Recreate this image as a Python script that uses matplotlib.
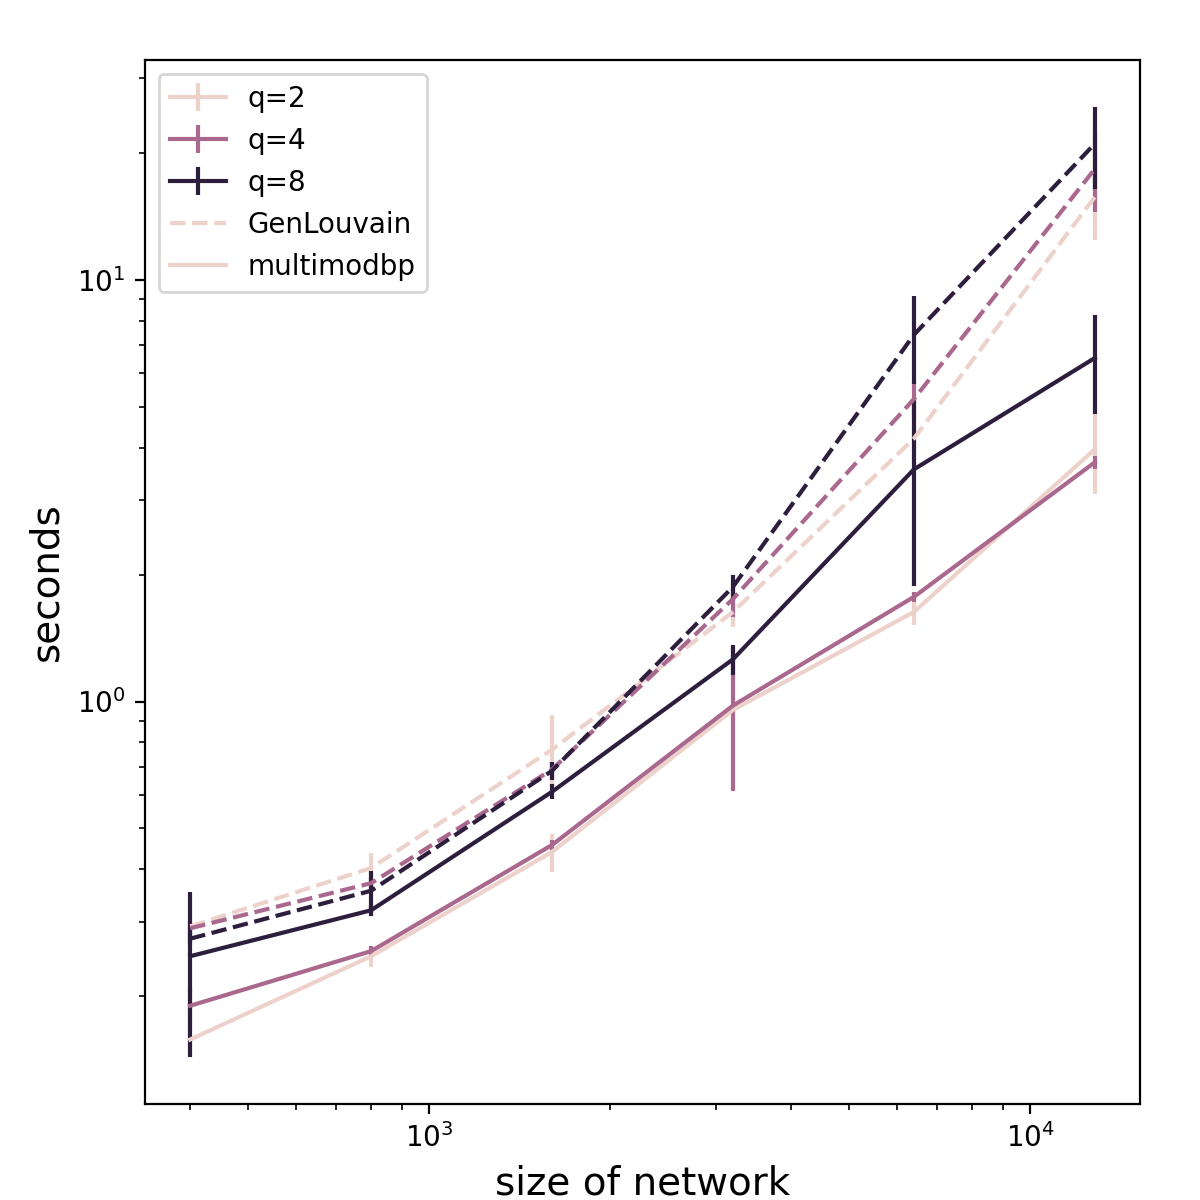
import matplotlib
matplotlib.use("Agg")
import matplotlib.pyplot as plt
from matplotlib.lines import Line2D
import seaborn as sns

sizes = [400, 800, 1600, 3200, 6400, 12800]
q_values = [2, 4, 8]

# multimodbp (solid) mean and std
multimodbp_mean = {
    2: [0.158, 0.249, 0.440, 0.955, 1.63, 3.96],
    4: [0.190, 0.256, 0.457, 0.978, 1.77, 3.69],
    8: [0.249, 0.320, 0.611, 1.259, 3.55, 6.52],
}
multimodbp_err = {
    2: [0.010, 0.014, 0.045, 0.050, 0.11, 0.85],
    4: [0.020, 0.007, 0.012, 0.364, 0.05, 0.13],
    8: [0.105, 0.010, 0.025, 0.105, 1.67, 1.72],
}
# GenLouvain (dashed) mean and std
genlouvain_mean = {
    2: [0.293, 0.403, 0.769, 1.63, 4.20, 15.7],
    4: [0.290, 0.371, 0.690, 1.75, 5.21, 18.3],
    8: [0.274, 0.356, 0.685, 1.87, 7.40, 21.0],
}
genlouvain_err = {
    2: [0.010, 0.034, 0.160, 0.13, 0.30, 3.3],
    4: [0.010, 0.010, 0.030, 0.165, 0.50, 3.8],
    8: [0.010, 0.040, 0.035, 0.12, 1.75, 4.6],
}

colors = sns.cubehelix_palette(3)

fig = plt.figure(figsize=(6, 6), dpi=200)
ax = fig.add_axes([0.1208, 0.08, 0.8292, 0.87])

handles = []
for q, c in zip(q_values, colors):
    ax.errorbar(sizes, genlouvain_mean[q], yerr=genlouvain_err[q],
                color=c, linestyle="--", linewidth=1.5)
    h = ax.errorbar(sizes, multimodbp_mean[q], yerr=multimodbp_err[q],
                    color=c, linestyle="-", linewidth=1.5, label=f"q={q}")
    handles.append(h)

ax.set_xscale("log")
ax.set_yscale("log")
ax.set_xlabel("size of network", fontsize=14)
ax.set_ylabel("seconds", fontsize=14)
ax.tick_params(labelsize=10)

handles.append(Line2D([], [], color=colors[0], linestyle="--", linewidth=1.5, label="GenLouvain"))
handles.append(Line2D([], [], color=colors[0], linestyle="-", linewidth=1.5, label="multimodbp"))
ax.legend(handles=handles, loc="upper left", fontsize=10)

fig.savefig("out.png", dpi=200)
